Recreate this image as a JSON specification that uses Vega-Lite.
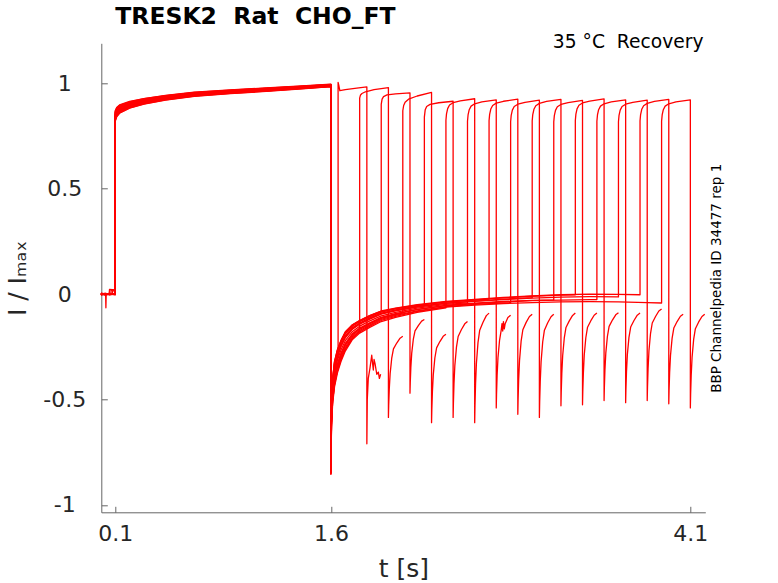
{
  "$schema": "https://vega.github.io/schema/vega-lite/v6.json",
  "width": 604,
  "height": 469,
  "autosize": {"type": "none"},
  "padding": {"left": 101.3, "top": 43.3, "right": 72.7, "bottom": 70.7},
  "background": "white",
  "title": {
    "text": "TRESK2\u00a0 Rat\u00a0 CHO_FT",
    "anchor": "start",
    "frame": "group",
    "dx": 14,
    "offset": 4,
    "font": "DejaVu Sans",
    "fontSize": 23.5,
    "fontWeight": "bold",
    "color": "black"
  },
  "data": {
    "values": [
      {"s":0,"t":0,"i":0.004},{"s":0,"t":0.03,"i":-0.003},{"s":0,"t":0.06,"i":0.002},{"s":0,"t":0.1,"i":0.0},
      {"s":0,"t":0.1,"i":0.82},{"s":0,"t":0.11,"i":0.841},{"s":0,"t":0.13,"i":0.858},{"s":0,"t":0.2,"i":0.882},{"s":0,"t":0.3,"i":0.902},{"s":0,"t":0.45,"i":0.921},{"s":0,"t":0.65,"i":0.938},{"s":0,"t":0.9,"i":0.951},{"s":0,"t":1.15,"i":0.962},{"s":0,"t":1.4,"i":0.974},{"s":0,"t":1.6,"i":0.984},
      {"s":0,"t":1.6,"i":-0.835},{"s":0,"t":1.604,"i":-0.565},{"s":0,"t":1.612,"i":-0.442},{"s":0,"t":1.625,"i":-0.362},{"s":0,"t":1.645,"i":-0.303},{"s":0,"t":1.65,"i":-0.294},
      {"s":0,"t":1.65,"i":1.005},{"s":0,"t":1.655,"i":0.99},{"s":0,"t":1.662,"i":0.965},{"s":0,"t":1.7,"i":0.97},{"s":0,"t":1.78,"i":0.977},{"s":0,"t":1.85,"i":0.983},
      {"s":0,"t":1.85,"i":-0.71},{"s":0,"t":1.853,"i":-0.5},{"s":0,"t":1.86,"i":-0.4},{"s":0,"t":1.872,"i":-0.35},{"s":0,"t":1.884,"i":-0.29},{"s":0,"t":1.89,"i":-0.33},{"s":0,"t":1.895,"i":-0.36},{"s":0,"t":1.9,"i":-0.31},{"s":0,"t":1.907,"i":-0.33},{"s":0,"t":1.919,"i":-0.38},{"s":0,"t":1.93,"i":-0.37},{"s":0,"t":1.937,"i":-0.4},{"s":0,"t":1.946,"i":-0.38},

      {"s":1,"t":0,"i":-0.003},{"s":1,"t":0.03,"i":0.002},{"s":1,"t":0.058,"i":0.002},{"s":1,"t":0.06,"i":0.022},{"s":1,"t":0.1,"i":0.02},
      {"s":1,"t":0.1,"i":0.86},{"s":1,"t":0.11,"i":0.876},{"s":1,"t":0.13,"i":0.89},{"s":1,"t":0.2,"i":0.908},{"s":1,"t":0.3,"i":0.923},{"s":1,"t":0.45,"i":0.939},{"s":1,"t":0.65,"i":0.954},{"s":1,"t":0.9,"i":0.965},{"s":1,"t":1.15,"i":0.975},{"s":1,"t":1.4,"i":0.985},{"s":1,"t":1.6,"i":0.994},
      {"s":1,"t":1.6,"i":-0.852},{"s":1,"t":1.604,"i":-0.62},{"s":1,"t":1.612,"i":-0.508},{"s":1,"t":1.625,"i":-0.428},{"s":1,"t":1.645,"i":-0.364},{"s":1,"t":1.67,"i":-0.31},{"s":1,"t":1.7,"i":-0.261},{"s":1,"t":1.75,"i":-0.208},{"s":1,"t":1.8,"i":-0.179},
      {"s":1,"t":1.8,"i":0.93},{"s":1,"t":1.806,"i":0.945},{"s":1,"t":1.816,"i":0.952},{"s":1,"t":1.84,"i":0.96},{"s":1,"t":1.9,"i":0.97},{"s":1,"t":2.0,"i":0.98},
      {"s":1,"t":2.0,"i":-0.585},{"s":1,"t":2.002,"i":-0.527},{"s":1,"t":2.006,"i":-0.45},{"s":1,"t":2.012,"i":-0.377},{"s":1,"t":2.023,"i":-0.304},{"s":1,"t":2.035,"i":-0.26},{"s":1,"t":2.058,"i":-0.232},{"s":1,"t":2.081,"i":-0.209},{"s":1,"t":2.1,"i":-0.2},

      {"s":2,"t":0,"i":0.0},{"s":2,"t":0.03,"i":0.004},{"s":2,"t":0.06,"i":-0.002},{"s":2,"t":0.1,"i":0.002},
      {"s":2,"t":0.1,"i":0.838},{"s":2,"t":0.11,"i":0.856},{"s":2,"t":0.13,"i":0.872},{"s":2,"t":0.2,"i":0.893},{"s":2,"t":0.3,"i":0.911},{"s":2,"t":0.45,"i":0.929},{"s":2,"t":0.65,"i":0.945},{"s":2,"t":0.9,"i":0.957},{"s":2,"t":1.15,"i":0.968},{"s":2,"t":1.4,"i":0.979},{"s":2,"t":1.6,"i":0.988},
      {"s":2,"t":1.6,"i":-0.825},{"s":2,"t":1.604,"i":-0.53},{"s":2,"t":1.612,"i":-0.4},{"s":2,"t":1.625,"i":-0.32},{"s":2,"t":1.645,"i":-0.265},{"s":2,"t":1.67,"i":-0.22},{"s":2,"t":1.7,"i":-0.18},{"s":2,"t":1.75,"i":-0.145},{"s":2,"t":1.8,"i":-0.125},{"s":2,"t":1.87,"i":-0.102},{"s":2,"t":1.95,"i":-0.08},
      {"s":2,"t":1.95,"i":0.9},{"s":2,"t":1.956,"i":0.925},{"s":2,"t":1.966,"i":0.937},{"s":2,"t":1.99,"i":0.945},{"s":2,"t":2.05,"i":0.95},{"s":2,"t":2.15,"i":0.955},
      {"s":2,"t":2.15,"i":-0.47},{"s":2,"t":2.152,"i":-0.418},{"s":2,"t":2.156,"i":-0.348},{"s":2,"t":2.162,"i":-0.281},{"s":2,"t":2.173,"i":-0.215},{"s":2,"t":2.185,"i":-0.174},{"s":2,"t":2.208,"i":-0.149},{"s":2,"t":2.231,"i":-0.128},{"s":2,"t":2.25,"i":-0.12},

      {"s":3,"t":0,"i":0.002},{"s":3,"t":0.033,"i":0.0},{"s":3,"t":0.035,"i":-0.065},{"s":3,"t":0.037,"i":-0.002},{"s":3,"t":0.06,"i":0.001},{"s":3,"t":0.1,"i":0.0},
      {"s":3,"t":0.1,"i":0.868},{"s":3,"t":0.11,"i":0.883},{"s":3,"t":0.13,"i":0.896},{"s":3,"t":0.2,"i":0.912},{"s":3,"t":0.3,"i":0.927},{"s":3,"t":0.45,"i":0.942},{"s":3,"t":0.65,"i":0.957},{"s":3,"t":0.9,"i":0.968},{"s":3,"t":1.15,"i":0.977},{"s":3,"t":1.4,"i":0.987},{"s":3,"t":1.6,"i":0.995},
      {"s":3,"t":1.6,"i":-0.846},{"s":3,"t":1.604,"i":-0.6},{"s":3,"t":1.612,"i":-0.484},{"s":3,"t":1.625,"i":-0.404},{"s":3,"t":1.645,"i":-0.342},{"s":3,"t":1.67,"i":-0.29},{"s":3,"t":1.7,"i":-0.243},{"s":3,"t":1.75,"i":-0.194},{"s":3,"t":1.8,"i":-0.167},{"s":3,"t":1.87,"i":-0.141},{"s":3,"t":1.95,"i":-0.115},{"s":3,"t":2.05,"i":-0.097},{"s":3,"t":2.1,"i":-0.09},
      {"s":3,"t":2.1,"i":0.87},{"s":3,"t":2.106,"i":0.895},{"s":3,"t":2.116,"i":0.91},{"s":3,"t":2.14,"i":0.925},{"s":3,"t":2.2,"i":0.94},{"s":3,"t":2.3,"i":0.957},
      {"s":3,"t":2.3,"i":-0.61},{"s":3,"t":2.302,"i":-0.547},{"s":3,"t":2.306,"i":-0.463},{"s":3,"t":2.312,"i":-0.383},{"s":3,"t":2.323,"i":-0.303},{"s":3,"t":2.335,"i":-0.255},{"s":3,"t":2.358,"i":-0.225},{"s":3,"t":2.381,"i":-0.2},{"s":3,"t":2.4,"i":-0.19},

      {"s":4,"t":0,"i":-0.004},{"s":4,"t":0.03,"i":0.0},{"s":4,"t":0.06,"i":0.003},{"s":4,"t":0.1,"i":-0.002},
      {"s":4,"t":0.1,"i":0.828},{"s":4,"t":0.11,"i":0.848},{"s":4,"t":0.13,"i":0.864},{"s":4,"t":0.2,"i":0.887},{"s":4,"t":0.3,"i":0.906},{"s":4,"t":0.45,"i":0.924},{"s":4,"t":0.65,"i":0.941},{"s":4,"t":0.9,"i":0.954},{"s":4,"t":1.15,"i":0.964},{"s":4,"t":1.4,"i":0.976},{"s":4,"t":1.6,"i":0.986},
      {"s":4,"t":1.6,"i":-0.831},{"s":4,"t":1.604,"i":-0.55},{"s":4,"t":1.612,"i":-0.424},{"s":4,"t":1.625,"i":-0.344},{"s":4,"t":1.645,"i":-0.287},{"s":4,"t":1.67,"i":-0.24},{"s":4,"t":1.7,"i":-0.198},{"s":4,"t":1.75,"i":-0.159},{"s":4,"t":1.8,"i":-0.137},{"s":4,"t":1.87,"i":-0.113},{"s":4,"t":1.95,"i":-0.09},{"s":4,"t":2.05,"i":-0.075},{"s":4,"t":2.2,"i":-0.057},{"s":4,"t":2.25,"i":-0.053},
      {"s":4,"t":2.25,"i":0.84},{"s":4,"t":2.256,"i":0.875},{"s":4,"t":2.266,"i":0.89},{"s":4,"t":2.29,"i":0.9},{"s":4,"t":2.35,"i":0.908},{"s":4,"t":2.45,"i":0.915},
      {"s":4,"t":2.45,"i":-0.585},{"s":4,"t":2.452,"i":-0.517},{"s":4,"t":2.456,"i":-0.426},{"s":4,"t":2.462,"i":-0.339},{"s":4,"t":2.473,"i":-0.253},{"s":4,"t":2.485,"i":-0.201},{"s":4,"t":2.508,"i":-0.168},{"s":4,"t":2.531,"i":-0.141},{"s":4,"t":2.55,"i":-0.13},

      {"s":5,"t":0,"i":0.003},{"s":5,"t":0.03,"i":-0.002},{"s":5,"t":0.06,"i":0.0},{"s":5,"t":0.1,"i":0.003},
      {"s":5,"t":0.1,"i":0.85},{"s":5,"t":0.11,"i":0.867},{"s":5,"t":0.13,"i":0.882},{"s":5,"t":0.2,"i":0.901},{"s":5,"t":0.3,"i":0.918},{"s":5,"t":0.45,"i":0.934},{"s":5,"t":0.65,"i":0.95},{"s":5,"t":0.9,"i":0.962},{"s":5,"t":1.15,"i":0.972},{"s":5,"t":1.4,"i":0.982},{"s":5,"t":1.6,"i":0.991},
      {"s":5,"t":1.6,"i":-0.855},{"s":5,"t":1.604,"i":-0.63},{"s":5,"t":1.612,"i":-0.52},{"s":5,"t":1.625,"i":-0.44},{"s":5,"t":1.645,"i":-0.375},{"s":5,"t":1.67,"i":-0.32},{"s":5,"t":1.7,"i":-0.27},{"s":5,"t":1.75,"i":-0.215},{"s":5,"t":1.8,"i":-0.185},{"s":5,"t":1.87,"i":-0.158},{"s":5,"t":1.95,"i":-0.13},{"s":5,"t":2.05,"i":-0.11},{"s":5,"t":2.2,"i":-0.086},{"s":5,"t":2.4,"i":-0.065},
      {"s":5,"t":2.4,"i":0.825},{"s":5,"t":2.404,"i":0.855},{"s":5,"t":2.412,"i":0.88},{"s":5,"t":2.425,"i":0.897},{"s":5,"t":2.45,"i":0.908},{"s":5,"t":2.5,"i":0.917},{"s":5,"t":2.6,"i":0.927},
      {"s":5,"t":2.6,"i":-0.61},{"s":5,"t":2.602,"i":-0.532},{"s":5,"t":2.606,"i":-0.428},{"s":5,"t":2.612,"i":-0.329},{"s":5,"t":2.623,"i":-0.23},{"s":5,"t":2.635,"i":-0.171},{"s":5,"t":2.658,"i":-0.133},{"s":5,"t":2.681,"i":-0.102},{"s":5,"t":2.7,"i":-0.09},

      {"s":6,"t":0,"i":-0.001},{"s":6,"t":0.03,"i":0.003},{"s":6,"t":0.06,"i":-0.003},{"s":6,"t":0.1,"i":0.001},
      {"s":6,"t":0.1,"i":0.833},{"s":6,"t":0.11,"i":0.852},{"s":6,"t":0.13,"i":0.868},{"s":6,"t":0.2,"i":0.89},{"s":6,"t":0.3,"i":0.909},{"s":6,"t":0.45,"i":0.927},{"s":6,"t":0.65,"i":0.943},{"s":6,"t":0.9,"i":0.956},{"s":6,"t":1.15,"i":0.966},{"s":6,"t":1.4,"i":0.978},{"s":6,"t":1.6,"i":0.987},
      {"s":6,"t":1.6,"i":-0.839},{"s":6,"t":1.604,"i":-0.575},{"s":6,"t":1.612,"i":-0.454},{"s":6,"t":1.625,"i":-0.374},{"s":6,"t":1.645,"i":-0.315},{"s":6,"t":1.67,"i":-0.265},{"s":6,"t":1.7,"i":-0.221},{"s":6,"t":1.75,"i":-0.177},{"s":6,"t":1.8,"i":-0.152},{"s":6,"t":1.87,"i":-0.127},{"s":6,"t":1.95,"i":-0.103},{"s":6,"t":2.05,"i":-0.086},{"s":6,"t":2.2,"i":-0.066},{"s":6,"t":2.4,"i":-0.049},{"s":6,"t":2.55,"i":-0.041},
      {"s":6,"t":2.55,"i":0.82},{"s":6,"t":2.554,"i":0.85},{"s":6,"t":2.562,"i":0.875},{"s":6,"t":2.575,"i":0.892},{"s":6,"t":2.6,"i":0.903},{"s":6,"t":2.65,"i":0.912},{"s":6,"t":2.75,"i":0.922},
      {"s":6,"t":2.75,"i":-0.54},{"s":6,"t":2.752,"i":-0.474},{"s":6,"t":2.756,"i":-0.386},{"s":6,"t":2.762,"i":-0.302},{"s":6,"t":2.773,"i":-0.219},{"s":6,"t":2.785,"i":-0.168},{"s":6,"t":2.79,"i":-0.14},{"s":6,"t":2.795,"i":-0.175},{"s":6,"t":2.8,"i":-0.13},{"s":6,"t":2.806,"i":-0.165},{"s":6,"t":2.812,"i":-0.14},{"s":6,"t":2.831,"i":-0.111},{"s":6,"t":2.85,"i":-0.1},

      {"s":7,"t":0,"i":0.001},{"s":7,"t":0.03,"i":-0.004},{"s":7,"t":0.07,"i":0.0},{"s":7,"t":0.071,"i":0.018},{"s":7,"t":0.1,"i":0.02},
      {"s":7,"t":0.1,"i":0.87},{"s":7,"t":0.11,"i":0.885},{"s":7,"t":0.13,"i":0.898},{"s":7,"t":0.2,"i":0.914},{"s":7,"t":0.3,"i":0.928},{"s":7,"t":0.45,"i":0.943},{"s":7,"t":0.65,"i":0.958},{"s":7,"t":0.9,"i":0.969},{"s":7,"t":1.15,"i":0.978},{"s":7,"t":1.4,"i":0.988},{"s":7,"t":1.6,"i":0.996},
      {"s":7,"t":1.6,"i":-0.828},{"s":7,"t":1.604,"i":-0.54},{"s":7,"t":1.612,"i":-0.412},{"s":7,"t":1.625,"i":-0.332},{"s":7,"t":1.645,"i":-0.276},{"s":7,"t":1.67,"i":-0.23},{"s":7,"t":1.7,"i":-0.189},{"s":7,"t":1.75,"i":-0.152},{"s":7,"t":1.8,"i":-0.131},{"s":7,"t":1.87,"i":-0.108},{"s":7,"t":1.95,"i":-0.085},{"s":7,"t":2.05,"i":-0.07},{"s":7,"t":2.2,"i":-0.054},{"s":7,"t":2.4,"i":-0.038},{"s":7,"t":2.6,"i":-0.028},{"s":7,"t":2.7,"i":-0.024},
      {"s":7,"t":2.7,"i":0.823},{"s":7,"t":2.704,"i":0.853},{"s":7,"t":2.712,"i":0.878},{"s":7,"t":2.725,"i":0.895},{"s":7,"t":2.75,"i":0.906},{"s":7,"t":2.8,"i":0.915},{"s":7,"t":2.9,"i":0.925},
      {"s":7,"t":2.9,"i":-0.57},{"s":7,"t":2.902,"i":-0.499},{"s":7,"t":2.906,"i":-0.404},{"s":7,"t":2.912,"i":-0.314},{"s":7,"t":2.923,"i":-0.223},{"s":7,"t":2.935,"i":-0.169},{"s":7,"t":2.958,"i":-0.134},{"s":7,"t":2.981,"i":-0.106},{"s":7,"t":3.0,"i":-0.095},

      {"s":8,"t":0,"i":-0.002},{"s":8,"t":0.03,"i":0.001},{"s":8,"t":0.06,"i":0.002},{"s":8,"t":0.1,"i":-0.001},
      {"s":8,"t":0.1,"i":0.845},{"s":8,"t":0.11,"i":0.863},{"s":8,"t":0.13,"i":0.878},{"s":8,"t":0.2,"i":0.898},{"s":8,"t":0.3,"i":0.915},{"s":8,"t":0.45,"i":0.932},{"s":8,"t":0.65,"i":0.948},{"s":8,"t":0.9,"i":0.96},{"s":8,"t":1.15,"i":0.97},{"s":8,"t":1.4,"i":0.981},{"s":8,"t":1.6,"i":0.99},
      {"s":8,"t":1.6,"i":-0.849},{"s":8,"t":1.604,"i":-0.61},{"s":8,"t":1.612,"i":-0.496},{"s":8,"t":1.625,"i":-0.416},{"s":8,"t":1.645,"i":-0.353},{"s":8,"t":1.67,"i":-0.3},{"s":8,"t":1.7,"i":-0.252},{"s":8,"t":1.75,"i":-0.201},{"s":8,"t":1.8,"i":-0.173},{"s":8,"t":1.87,"i":-0.147},{"s":8,"t":1.95,"i":-0.12},{"s":8,"t":2.05,"i":-0.101},{"s":8,"t":2.2,"i":-0.079},{"s":8,"t":2.4,"i":-0.059},{"s":8,"t":2.6,"i":-0.049},{"s":8,"t":2.8,"i":-0.042},{"s":8,"t":2.85,"i":-0.04},
      {"s":8,"t":2.85,"i":0.818},{"s":8,"t":2.854,"i":0.848},{"s":8,"t":2.862,"i":0.873},{"s":8,"t":2.875,"i":0.89},{"s":8,"t":2.9,"i":0.901},{"s":8,"t":2.95,"i":0.91},{"s":8,"t":3.05,"i":0.92},
      {"s":8,"t":3.05,"i":-0.585},{"s":8,"t":3.052,"i":-0.512},{"s":8,"t":3.056,"i":-0.414},{"s":8,"t":3.062,"i":-0.32},{"s":8,"t":3.073,"i":-0.227},{"s":8,"t":3.085,"i":-0.171},{"s":8,"t":3.108,"i":-0.136},{"s":8,"t":3.131,"i":-0.107},{"s":8,"t":3.15,"i":-0.095},

      {"s":9,"t":0,"i":0.005},{"s":9,"t":0.03,"i":0.0},{"s":9,"t":0.06,"i":-0.001},{"s":9,"t":0.1,"i":0.002},
      {"s":9,"t":0.1,"i":0.823},{"s":9,"t":0.11,"i":0.843},{"s":9,"t":0.13,"i":0.86},{"s":9,"t":0.2,"i":0.884},{"s":9,"t":0.3,"i":0.903},{"s":9,"t":0.45,"i":0.922},{"s":9,"t":0.65,"i":0.939},{"s":9,"t":0.9,"i":0.952},{"s":9,"t":1.15,"i":0.963},{"s":9,"t":1.4,"i":0.975},{"s":9,"t":1.6,"i":0.985},
      {"s":9,"t":1.6,"i":-0.833},{"s":9,"t":1.604,"i":-0.555},{"s":9,"t":1.612,"i":-0.43},{"s":9,"t":1.625,"i":-0.35},{"s":9,"t":1.645,"i":-0.293},{"s":9,"t":1.67,"i":-0.245},{"s":9,"t":1.7,"i":-0.203},{"s":9,"t":1.75,"i":-0.163},{"s":9,"t":1.8,"i":-0.14},{"s":9,"t":1.87,"i":-0.116},{"s":9,"t":1.95,"i":-0.093},{"s":9,"t":2.05,"i":-0.077},{"s":9,"t":2.2,"i":-0.059},{"s":9,"t":2.4,"i":-0.043},{"s":9,"t":2.6,"i":-0.033},{"s":9,"t":2.8,"i":-0.024},{"s":9,"t":3.0,"i":-0.017},
      {"s":9,"t":3.0,"i":0.822},{"s":9,"t":3.004,"i":0.852},{"s":9,"t":3.012,"i":0.877},{"s":9,"t":3.025,"i":0.894},{"s":9,"t":3.05,"i":0.905},{"s":9,"t":3.1,"i":0.914},{"s":9,"t":3.2,"i":0.924},
      {"s":9,"t":3.2,"i":-0.53},{"s":9,"t":3.202,"i":-0.464},{"s":9,"t":3.206,"i":-0.376},{"s":9,"t":3.212,"i":-0.292},{"s":9,"t":3.223,"i":-0.209},{"s":9,"t":3.235,"i":-0.158},{"s":9,"t":3.258,"i":-0.127},{"s":9,"t":3.281,"i":-0.101},{"s":9,"t":3.3,"i":-0.09},

      {"s":10,"t":0,"i":-0.005},{"s":10,"t":0.03,"i":0.003},{"s":10,"t":0.06,"i":0.001},{"s":10,"t":0.1,"i":0.0},
      {"s":10,"t":0.1,"i":0.855},{"s":10,"t":0.11,"i":0.872},{"s":10,"t":0.13,"i":0.886},{"s":10,"t":0.2,"i":0.904},{"s":10,"t":0.3,"i":0.92},{"s":10,"t":0.45,"i":0.936},{"s":10,"t":0.65,"i":0.952},{"s":10,"t":0.9,"i":0.964},{"s":10,"t":1.15,"i":0.973},{"s":10,"t":1.4,"i":0.984},{"s":10,"t":1.6,"i":0.992},
      {"s":10,"t":1.6,"i":-0.843},{"s":10,"t":1.604,"i":-0.59},{"s":10,"t":1.612,"i":-0.472},{"s":10,"t":1.625,"i":-0.392},{"s":10,"t":1.645,"i":-0.331},{"s":10,"t":1.67,"i":-0.28},{"s":10,"t":1.7,"i":-0.234},{"s":10,"t":1.75,"i":-0.187},{"s":10,"t":1.8,"i":-0.161},{"s":10,"t":1.87,"i":-0.136},{"s":10,"t":1.95,"i":-0.11},{"s":10,"t":2.05,"i":-0.092},{"s":10,"t":2.2,"i":-0.072},{"s":10,"t":2.4,"i":-0.053},{"s":10,"t":2.6,"i":-0.043},{"s":10,"t":2.8,"i":-0.035},{"s":10,"t":3.0,"i":-0.03},{"s":10,"t":3.15,"i":-0.027},
      {"s":10,"t":3.15,"i":0.817},{"s":10,"t":3.154,"i":0.847},{"s":10,"t":3.162,"i":0.872},{"s":10,"t":3.175,"i":0.889},{"s":10,"t":3.2,"i":0.9},{"s":10,"t":3.25,"i":0.909},{"s":10,"t":3.35,"i":0.919},
      {"s":10,"t":3.35,"i":-0.525},{"s":10,"t":3.352,"i":-0.46},{"s":10,"t":3.356,"i":-0.373},{"s":10,"t":3.362,"i":-0.29},{"s":10,"t":3.373,"i":-0.207},{"s":10,"t":3.385,"i":-0.157},{"s":10,"t":3.408,"i":-0.126},{"s":10,"t":3.431,"i":-0.1},{"s":10,"t":3.45,"i":-0.09},

      {"s":11,"t":0,"i":0.0},{"s":11,"t":0.03,"i":-0.002},{"s":11,"t":0.06,"i":0.004},{"s":11,"t":0.1,"i":0.001},
      {"s":11,"t":0.1,"i":0.84},{"s":11,"t":0.11,"i":0.859},{"s":11,"t":0.13,"i":0.874},{"s":11,"t":0.2,"i":0.895},{"s":11,"t":0.3,"i":0.912},{"s":11,"t":0.45,"i":0.93},{"s":11,"t":0.65,"i":0.946},{"s":11,"t":0.9,"i":0.958},{"s":11,"t":1.15,"i":0.968},{"s":11,"t":1.4,"i":0.98},{"s":11,"t":1.6,"i":0.989},
      {"s":11,"t":1.6,"i":-0.826},{"s":11,"t":1.604,"i":-0.535},{"s":11,"t":1.612,"i":-0.406},{"s":11,"t":1.625,"i":-0.326},{"s":11,"t":1.645,"i":-0.27},{"s":11,"t":1.67,"i":-0.225},{"s":11,"t":1.7,"i":-0.185},{"s":11,"t":1.75,"i":-0.149},{"s":11,"t":1.8,"i":-0.128},{"s":11,"t":1.87,"i":-0.105},{"s":11,"t":1.95,"i":-0.083},{"s":11,"t":2.05,"i":-0.068},{"s":11,"t":2.2,"i":-0.052},{"s":11,"t":2.4,"i":-0.037},{"s":11,"t":2.6,"i":-0.027},{"s":11,"t":2.8,"i":-0.018},{"s":11,"t":3.0,"i":-0.01},{"s":11,"t":3.2,"i":-0.005},{"s":11,"t":3.3,"i":-0.003},
      {"s":11,"t":3.3,"i":0.824},{"s":11,"t":3.304,"i":0.854},{"s":11,"t":3.312,"i":0.879},{"s":11,"t":3.325,"i":0.896},{"s":11,"t":3.35,"i":0.907},{"s":11,"t":3.4,"i":0.916},{"s":11,"t":3.5,"i":0.926},
      {"s":11,"t":3.5,"i":-0.505},{"s":11,"t":3.502,"i":-0.442},{"s":11,"t":3.506,"i":-0.359},{"s":11,"t":3.512,"i":-0.28},{"s":11,"t":3.523,"i":-0.201},{"s":11,"t":3.535,"i":-0.153},{"s":11,"t":3.558,"i":-0.123},{"s":11,"t":3.581,"i":-0.098},{"s":11,"t":3.6,"i":-0.088},

      {"s":12,"t":0,"i":0.002},{"s":12,"t":0.03,"i":0.001},{"s":12,"t":0.08,"i":0.0},{"s":12,"t":0.081,"i":0.015},{"s":12,"t":0.1,"i":0.016},
      {"s":12,"t":0.1,"i":0.863},{"s":12,"t":0.11,"i":0.878},{"s":12,"t":0.13,"i":0.892},{"s":12,"t":0.2,"i":0.909},{"s":12,"t":0.3,"i":0.924},{"s":12,"t":0.45,"i":0.94},{"s":12,"t":0.65,"i":0.955},{"s":12,"t":0.9,"i":0.966},{"s":12,"t":1.15,"i":0.976},{"s":12,"t":1.4,"i":0.986},{"s":12,"t":1.6,"i":0.994},
      {"s":12,"t":1.6,"i":-0.845},{"s":12,"t":1.604,"i":-0.595},{"s":12,"t":1.612,"i":-0.478},{"s":12,"t":1.625,"i":-0.398},{"s":12,"t":1.645,"i":-0.337},{"s":12,"t":1.67,"i":-0.285},{"s":12,"t":1.7,"i":-0.239},{"s":12,"t":1.75,"i":-0.191},{"s":12,"t":1.8,"i":-0.164},{"s":12,"t":1.87,"i":-0.138},{"s":12,"t":1.95,"i":-0.113},{"s":12,"t":2.05,"i":-0.095},{"s":12,"t":2.2,"i":-0.073},{"s":12,"t":2.4,"i":-0.055},{"s":12,"t":2.6,"i":-0.045},{"s":12,"t":2.8,"i":-0.037},{"s":12,"t":3.0,"i":-0.031},{"s":12,"t":3.2,"i":-0.028},{"s":12,"t":3.4,"i":-0.026},{"s":12,"t":3.45,"i":-0.026},
      {"s":12,"t":3.45,"i":0.82},{"s":12,"t":3.454,"i":0.85},{"s":12,"t":3.462,"i":0.875},{"s":12,"t":3.475,"i":0.892},{"s":12,"t":3.5,"i":0.903},{"s":12,"t":3.55,"i":0.912},{"s":12,"t":3.65,"i":0.922},
      {"s":12,"t":3.65,"i":-0.515},{"s":12,"t":3.652,"i":-0.451},{"s":12,"t":3.656,"i":-0.366},{"s":12,"t":3.662,"i":-0.286},{"s":12,"t":3.673,"i":-0.205},{"s":12,"t":3.685,"i":-0.156},{"s":12,"t":3.708,"i":-0.125},{"s":12,"t":3.731,"i":-0.1},{"s":12,"t":3.75,"i":-0.09},

      {"s":13,"t":0,"i":-0.001},{"s":13,"t":0.03,"i":-0.001},{"s":13,"t":0.06,"i":0.0},{"s":13,"t":0.1,"i":-0.003},
      {"s":13,"t":0.1,"i":0.83},{"s":13,"t":0.11,"i":0.85},{"s":13,"t":0.13,"i":0.866},{"s":13,"t":0.2,"i":0.888},{"s":13,"t":0.3,"i":0.907},{"s":13,"t":0.45,"i":0.925},{"s":13,"t":0.65,"i":0.942},{"s":13,"t":0.9,"i":0.955},{"s":13,"t":1.15,"i":0.965},{"s":13,"t":1.4,"i":0.977},{"s":13,"t":1.6,"i":0.986},
      {"s":13,"t":1.6,"i":-0.834},{"s":13,"t":1.604,"i":-0.56},{"s":13,"t":1.612,"i":-0.436},{"s":13,"t":1.625,"i":-0.356},{"s":13,"t":1.645,"i":-0.298},{"s":13,"t":1.67,"i":-0.25},{"s":13,"t":1.7,"i":-0.207},{"s":13,"t":1.75,"i":-0.166},{"s":13,"t":1.8,"i":-0.143},{"s":13,"t":1.87,"i":-0.119},{"s":13,"t":1.95,"i":-0.095},{"s":13,"t":2.05,"i":-0.079},{"s":13,"t":2.2,"i":-0.061},{"s":13,"t":2.4,"i":-0.044},{"s":13,"t":2.6,"i":-0.034},{"s":13,"t":2.8,"i":-0.026},{"s":13,"t":3.0,"i":-0.019},{"s":13,"t":3.2,"i":-0.014},{"s":13,"t":3.4,"i":-0.012},{"s":13,"t":3.6,"i":-0.013},
      {"s":13,"t":3.6,"i":0.818},{"s":13,"t":3.604,"i":0.848},{"s":13,"t":3.612,"i":0.873},{"s":13,"t":3.625,"i":0.89},{"s":13,"t":3.65,"i":0.901},{"s":13,"t":3.7,"i":0.91},{"s":13,"t":3.8,"i":0.92},
      {"s":13,"t":3.8,"i":-0.505},{"s":13,"t":3.802,"i":-0.44},{"s":13,"t":3.806,"i":-0.353},{"s":13,"t":3.812,"i":-0.27},{"s":13,"t":3.823,"i":-0.187},{"s":13,"t":3.835,"i":-0.137},{"s":13,"t":3.858,"i":-0.106},{"s":13,"t":3.881,"i":-0.08},{"s":13,"t":3.9,"i":-0.07},

      {"s":14,"t":0,"i":0.003},{"s":14,"t":0.03,"i":0.002},{"s":14,"t":0.06,"i":-0.002},{"s":14,"t":0.1,"i":0.0},
      {"s":14,"t":0.1,"i":0.853},{"s":14,"t":0.11,"i":0.87},{"s":14,"t":0.13,"i":0.884},{"s":14,"t":0.2,"i":0.903},{"s":14,"t":0.3,"i":0.919},{"s":14,"t":0.45,"i":0.935},{"s":14,"t":0.65,"i":0.951},{"s":14,"t":0.9,"i":0.963},{"s":14,"t":1.15,"i":0.972},{"s":14,"t":1.4,"i":0.983},{"s":14,"t":1.6,"i":0.992},
      {"s":14,"t":1.6,"i":-0.825},{"s":14,"t":1.604,"i":-0.53},{"s":14,"t":1.612,"i":-0.4},{"s":14,"t":1.625,"i":-0.32},{"s":14,"t":1.645,"i":-0.265},{"s":14,"t":1.67,"i":-0.22},{"s":14,"t":1.7,"i":-0.18},{"s":14,"t":1.75,"i":-0.145},{"s":14,"t":1.8,"i":-0.125},{"s":14,"t":1.87,"i":-0.102},{"s":14,"t":1.95,"i":-0.08},{"s":14,"t":2.05,"i":-0.066},{"s":14,"t":2.2,"i":-0.05},{"s":14,"t":2.4,"i":-0.035},{"s":14,"t":2.6,"i":-0.025},{"s":14,"t":2.8,"i":-0.016},{"s":14,"t":3.0,"i":-0.008},{"s":14,"t":3.2,"i":-0.003},{"s":14,"t":3.4,"i":0.0},{"s":14,"t":3.6,"i":-0.001},{"s":14,"t":3.75,"i":-0.003},
      {"s":14,"t":3.75,"i":0.822},{"s":14,"t":3.754,"i":0.852},{"s":14,"t":3.762,"i":0.877},{"s":14,"t":3.775,"i":0.894},{"s":14,"t":3.8,"i":0.905},{"s":14,"t":3.85,"i":0.914},{"s":14,"t":3.95,"i":0.924},
      {"s":14,"t":3.95,"i":-0.52},{"s":14,"t":3.952,"i":-0.456},{"s":14,"t":3.956,"i":-0.371},{"s":14,"t":3.962,"i":-0.291},{"s":14,"t":3.973,"i":-0.21},{"s":14,"t":3.985,"i":-0.161},{"s":14,"t":4.008,"i":-0.13},{"s":14,"t":4.031,"i":-0.105},{"s":14,"t":4.05,"i":-0.095},

      {"s":15,"t":0,"i":-0.002},{"s":15,"t":0.03,"i":0.0},{"s":15,"t":0.06,"i":0.002},{"s":15,"t":0.1,"i":0.001},
      {"s":15,"t":0.1,"i":0.843},{"s":15,"t":0.11,"i":0.861},{"s":15,"t":0.13,"i":0.876},{"s":15,"t":0.2,"i":0.896},{"s":15,"t":0.3,"i":0.914},{"s":15,"t":0.45,"i":0.931},{"s":15,"t":0.65,"i":0.947},{"s":15,"t":0.9,"i":0.959},{"s":15,"t":1.15,"i":0.969},{"s":15,"t":1.4,"i":0.98},{"s":15,"t":1.6,"i":0.989},
      {"s":15,"t":1.6,"i":-0.852},{"s":15,"t":1.604,"i":-0.62},{"s":15,"t":1.612,"i":-0.508},{"s":15,"t":1.625,"i":-0.428},{"s":15,"t":1.645,"i":-0.364},{"s":15,"t":1.67,"i":-0.31},{"s":15,"t":1.7,"i":-0.261},{"s":15,"t":1.75,"i":-0.208},{"s":15,"t":1.8,"i":-0.179},{"s":15,"t":1.87,"i":-0.152},{"s":15,"t":1.95,"i":-0.125},{"s":15,"t":2.05,"i":-0.106},{"s":15,"t":2.2,"i":-0.082},{"s":15,"t":2.4,"i":-0.062},{"s":15,"t":2.6,"i":-0.052},{"s":15,"t":2.8,"i":-0.045},{"s":15,"t":3.0,"i":-0.04},{"s":15,"t":3.2,"i":-0.037},{"s":15,"t":3.4,"i":-0.036},{"s":15,"t":3.6,"i":-0.037},{"s":15,"t":3.8,"i":-0.04},{"s":15,"t":3.9,"i":-0.042},
      {"s":15,"t":3.9,"i":0.82},{"s":15,"t":3.904,"i":0.85},{"s":15,"t":3.912,"i":0.875},{"s":15,"t":3.925,"i":0.892},{"s":15,"t":3.95,"i":0.903},{"s":15,"t":4.0,"i":0.912},{"s":15,"t":4.1,"i":0.922},
      {"s":15,"t":4.1,"i":-0.54},{"s":15,"t":4.102,"i":-0.473},{"s":15,"t":4.106,"i":-0.384},{"s":15,"t":4.112,"i":-0.3},{"s":15,"t":4.123,"i":-0.215},{"s":15,"t":4.135,"i":-0.164},{"s":15,"t":4.158,"i":-0.132},{"s":15,"t":4.181,"i":-0.106},{"s":15,"t":4.2,"i":-0.095}
    ]
  },
  "layer": [
    {
      "transform": [{"filter": "datum.s < 8"}],
      "mark": {"type": "line", "color": "#ff0000", "strokeWidth": 1.3, "strokeJoin": "round"},
      "encoding": {
        "x": {
          "field": "t",
          "type": "quantitative",
          "scale": {"domain": [0.003, 4.204], "nice": false, "zero": false},
          "axis": {
            "orient": "bottom",
            "values": [0.1, 1.6, 4.1],
            "format": ".1f",
            "grid": false,
            "domainColor": "#666666",
            "tickColor": "#666666",
            "tickSize": -6,
            "labelFont": "DejaVu Sans",
            "labelFontSize": 22,
            "labelColor": "#262626",
            "labelPadding": 17,
            "labelFlush": false,
            "labelOverlap": false,
            "title": "t [s]",
            "titleFont": "DejaVu Sans",
            "titleFontSize": 25,
            "titleFontWeight": "normal",
            "titleColor": "#262626",
            "titleX": 302,
            "titleY": 64,
            "titleAlign": "center",
            "titleBaseline": "alphabetic"
          }
        },
        "y": {
          "field": "i",
          "type": "quantitative",
          "scale": {"domain": [-1.035, 1.19], "nice": false, "zero": false},
          "axis": {
            "orient": "left",
            "values": [-1, -0.5, 0, 0.5, 1],
            "labelExpr": "datum.value == 0 ? '0' : (datum.value < 0 ? '-' : '') + format(abs(datum.value), '~g')",
            "grid": false,
            "domainColor": "#666666",
            "tickColor": "#666666",
            "tickSize": -6,
            "labelFont": "DejaVu Sans",
            "labelFontSize": 22,
            "labelColor": "#262626",
            "labelAlign": "center",
            "labelBaseline": "middle",
            "labelPadding": 43,
            "labelOverlap": false,
            "title": "I / Iₘₐₓ",
            "titleFont": "DejaVu Sans",
            "titleFontSize": 25,
            "titleFontWeight": "normal",
            "titleColor": "#262626",
            "titleAngle": 270,
            "titleX": -76,
            "titleY": 234.5,
            "titleAlign": "center",
            "titleBaseline": "alphabetic"
          }
        },
        "detail": {"field": "s", "type": "nominal"},
        "order": {"value": null}
      }
    },
    {
      "transform": [{"filter": "datum.s >= 8"}],
      "mark": {"type": "line", "color": "#ff0000", "strokeWidth": 1.3, "strokeJoin": "round"},
      "encoding": {
        "x": {
          "field": "t",
          "type": "quantitative",
          "axis": {
            "orient": "top",
            "labels": false,
            "ticks": false,
            "domain": false,
            "grid": false,
            "title": "35 °C\u00a0 Recovery",
            "titleFont": "DejaVu Sans",
            "titleFontSize": 18.7,
            "titleFontWeight": "normal",
            "titleColor": "black",
            "titleAngle": 0,
            "titleX": 601.7,
            "titleY": 4,
            "titleAlign": "right",
            "titleBaseline": "alphabetic"
          }
        },
        "y": {
          "field": "i",
          "type": "quantitative",
          "axis": {
            "orient": "right",
            "labels": false,
            "ticks": false,
            "domain": false,
            "grid": false,
            "title": "BBP Channelpedia ID 34477 rep 1",
            "titleFont": "DejaVu Sans",
            "titleFontSize": 13.5,
            "titleFontWeight": "normal",
            "titleColor": "black",
            "titleAngle": 270,
            "titleX": 11.5,
            "titleY": 234.5,
            "titleAlign": "center",
            "titleBaseline": "middle"
          }
        },
        "detail": {"field": "s", "type": "nominal"},
        "order": {"value": null}
      }
    }
  ],
  "resolve": {"axis": {"x": "independent", "y": "independent"}},
  "config": {"view": {"stroke": null}}
}
